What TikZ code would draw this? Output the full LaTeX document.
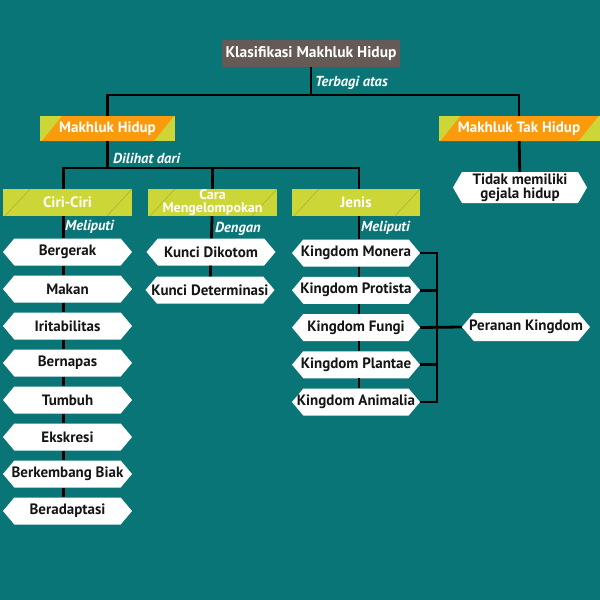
\documentclass[tikz,border=0pt]{standalone}
\usepackage{fontspec}
\setmainfont{PT Sans}
\usetikzlibrary{shapes.symbols}

\definecolor{bgteal}{HTML}{0A7577}
\definecolor{headgrey}{HTML}{655A55}
\definecolor{limefill}{HTML}{CDD637}
\definecolor{limeline}{HTML}{A9B23A}
\definecolor{orangefill}{HTML}{FC9A0E}
\definecolor{inkdark}{HTML}{151515}

\tikzset{
  link/.style={line width=2.8pt, draw=black},
  headbox/.style={fill=headgrey, text=white, font=\bfseries\fontsize{15.5}{16}\selectfont,
    minimum width=178pt, minimum height=27pt, inner sep=0pt},
  groupbox/.style={fill=limefill, text=white, font=\bfseries\fontsize{15}{13}\selectfont,
    align=center, minimum width=129pt, minimum height=27pt, inner sep=0pt,
    path picture={
      \draw[limeline, line width=0.6pt] ([xshift=2pt]path picture bounding box.south west) -- ++(25pt,27pt);
      \draw[limeline, line width=0.6pt] ([xshift=-25pt]path picture bounding box.south east) -- (path picture bounding box.north east);
    }},
  mainbox/.style={fill=limefill, text=white, font=\bfseries\fontsize{15}{16}\selectfont,
    minimum height=25pt, inner sep=0pt,
    path picture={
      \fill[orangefill] ([xshift=2pt]path picture bounding box.south west)
        -- ([xshift=22pt]path picture bounding box.north west)
        -- ([xshift=-1pt]path picture bounding box.north east)
        -- ([xshift=-21pt]path picture bounding box.south east) -- cycle;
    }},
  itembox/.style={signal, signal to=east and west, signal pointer angle=100,
    fill=white, text=inkdark, font=\bfseries\fontsize{15}{14}\selectfont, align=center,
    minimum width=129pt, minimum height=27pt, inner xsep=-10pt, inner ysep=0pt},
  lbl/.style={text=white, font=\bfseries\itshape\fontsize{14.5}{14}\selectfont,
    anchor=west, inner sep=0pt}
}

\begin{document}
\begin{tikzpicture}[x=1pt, y=-1pt]
\fill[bgteal] (0,0) rectangle (600,600);
\useasboundingbox (0,0) rectangle (600,600);

% top level
\node[headbox] (title) at (311,53.5) {Klasifikasi Makhluk Hidup};
\node[mainbox, minimum width=135pt] (hidup) at (107.5,128.5) {Makhluk Hidup};
\node[mainbox, minimum width=161pt] (tak) at (519,128.5) {Makhluk Tak Hidup};
\node[itembox, minimum width=134pt, minimum height=31pt, signal pointer angle=120] (tidak) at (520,187.5)
  {Tidak memiliki\\gejala hidup};

\coordinate (split1) at (311,95);
\draw[link] (title) -- (split1);
\draw[link] (hidup.north) |- (split1) -| (tak.north);
\draw[link] (tak) -- (tidak);
\node[lbl] (terbagi) at (315,83) {Terbagi atas};

% second level
\node[groupbox] (ciri) at (67.5,202.5) {Ciri-Ciri};
\node[groupbox, font=\bfseries\fontsize{14}{12.5}\selectfont] (cara) at (212.5,202.5) {Cara\\Mengelompokan};
\node[groupbox, minimum width=128pt] (jenis) at (356,202.5) {Jenis};

\coordinate (split2) at (107.5,168);
\draw[link] (hidup) -- (split2);
\draw[link] ([xshift=-4pt]ciri.north) |- (split2) -| ([xshift=3pt]jenis.north);
\draw[link] (cara.north) -- (cara.north |- split2);
\node[lbl] (dilihat) at (113,158) {Dilihat dari};

% ciri-ciri
\foreach \txt [count=\i] in {Bergerak, Makan, Iritabilitas, Bernapas,
  Tumbuh, Ekskresi, Berkembang Biak, Beradaptasi}
  \node[itembox] (c\i) at (67.5,215+37*\i) {\txt};
\foreach \a/\b in {ciri/c1, c1/c2, c2/c3, c3/c4, c4/c5, c5/c6, c6/c7, c7/c8}
  \draw[link] ([xshift=-4pt]\a.south) -- ([xshift=-4pt]\b.north);
\node[lbl] (meliputi1) at (65,227) {Meliputi};

% cara mengelompokan
\node[itembox] (k1) at (211,252) {Kunci Dikotom};
\node[itembox] (k2) at (210,290) {Kunci Determinasi};
\draw[link] (cara) -- (k1);
\draw[link] (k1) -- (k2);
\node[lbl] (dengan) at (215,229) {Dengan};

% jenis
\foreach \txt [count=\i] in {Kingdom Monera, Kingdom Protista, Kingdom Fungi,
  Kingdom Plantae, Kingdom Animalia}
  \node[itembox, minimum width=128pt] (j\i) at (356,215.75+37.25*\i) {\txt};
\foreach \a/\b in {jenis/j1, j1/j2, j2/j3, j3/j4, j4/j5}
  \draw[link] ([xshift=3pt]\a.south) -- ([xshift=3pt]\b.north);
\node[lbl] (meliputi2) at (361,228) {Meliputi};

% peranan
\node[itembox, minimum width=128pt, minimum height=28pt] (peranan) at (526,327) {Peranan Kingdom};
\coordinate (brk) at (437,327.5);
\foreach \j in {j1, j2, j4, j5}
  \draw[link] (\j.east) -- (\j.east -| brk);
\draw[link, line cap=rect] (j1.east -| brk) -- (j5.east -| brk);
\draw[link] (j3.east) -- (peranan.west);
\end{tikzpicture}
\end{document}
